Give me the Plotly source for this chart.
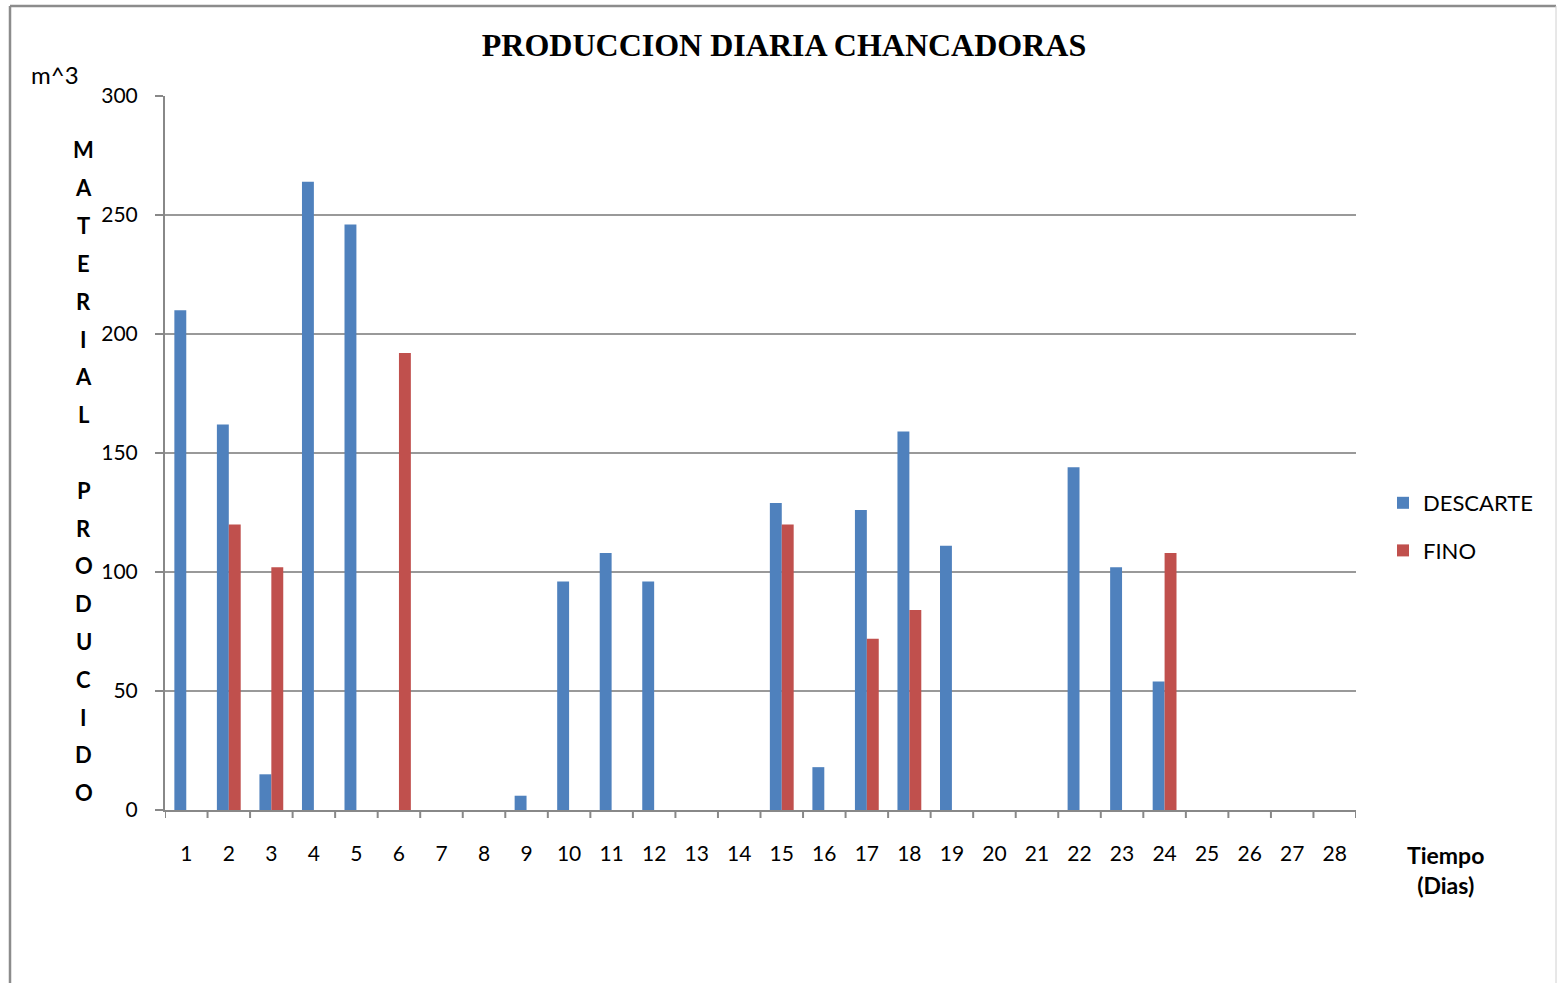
import plotly.graph_objects as go

# Daily crusher output (m^3) per day
dias = list(range(1, 29))
descarte = [210, 162, 15, 264, 246, None, None, None, 6, 96, 108, 96, None, None,
            129, 18, 126, 159, 111, None, None, 144, 102, 54, None, None, None, None]
fino = [None, 120, 102, None, None, 192, None, None, None, None, None, None, None, None,
        120, None, 72, 84, None, None, None, None, None, 108, None, None, None, None]
y_ticks = [0, 50, 100, 150, 200, 250, 300]

W, H = 1558, 983
L, R, T, B = 165, 1356, 96, 810  # plot area in pixels


def px(x):
    return (x - L) / (R - L)


def py(y):
    return (B - y) / (B - T)


FONT = "Lato"

fig = go.Figure()
fig.add_trace(go.Bar(x=dias, y=descarte, name="DESCARTE", marker_color="#4F81BD",
                     marker_line_width=0, legendgroup="d"))
fig.add_trace(go.Bar(x=dias, y=fino, name="FINO", marker_color="#C0504D",
                     marker_line_width=0, legendgroup="f"))

fig.update_layout(
    width=W, height=H,
    margin=dict(l=L, r=W - R, t=T, b=H - B, autoexpand=False),
    paper_bgcolor="white", plot_bgcolor="white",
    barmode="group", bargap=0.44, bargroupgap=0,
    font=dict(family=FONT, size=21, color="black"),
    title=dict(text="<b>PRODUCCION DIARIA CHANCADORAS</b>",
               font=dict(family="Liberation Serif", size=32, color="black"),
               x=(483 + 1085) / 2 / W, xanchor="center", y=1 - 45 / H, yanchor="middle"),
    legend=dict(x=px(1383), xanchor="left", y=py(482), yanchor="top",
                font=dict(family=FONT, size=22), tracegroupgap=16,
                itemwidth=30, bgcolor="rgba(0,0,0,0)"),
    showlegend=True,
)

fig.update_xaxes(
    type="linear", range=[0.5, 28.5], tickmode="array", tickvals=dias,
    ticktext=[str(d) for d in dias],
    showline=True, linecolor="#888888", linewidth=2,
    ticks="", showgrid=False, zeroline=False,
    ticklabelstandoff=24, tickfont=dict(family=FONT, size=21),
)
fig.update_yaxes(
    range=[0, 300], tickmode="array", tickvals=y_ticks,
    showline=True, linecolor="#888888", linewidth=2,
    ticks="outside", ticklen=8, tickcolor="#888888", tickwidth=2,
    showgrid=True, gridcolor="#999999", gridwidth=1.5, zeroline=False,
    ticklabelstandoff=13, tickfont=dict(family=FONT, size=21),
)

shapes = []
# tick marks on category boundaries
for k in range(29):
    xb = 0.5 + k
    shapes.append(dict(type="line", xref="x", yref="paper", x0=xb, x1=xb,
                       y0=0, y1=py(B + 8), line=dict(color="#888888", width=2)))
# outer frame
shapes.append(dict(type="line", xref="paper", yref="paper", x0=px(10), x1=px(10),
                   y0=py(6), y1=py(990), line=dict(color="#8c8c8c", width=2.5)))
shapes.append(dict(type="line", xref="paper", yref="paper", x0=px(10), x1=px(1556),
                   y0=py(6), y1=py(6), line=dict(color="#8c8c8c", width=2.5)))
shapes.append(dict(type="line", xref="paper", yref="paper", x0=px(1556), x1=px(1556),
                   y0=py(6), y1=py(990), line=dict(color="#d0d0d0", width=1)))
fig.update_layout(shapes=shapes)

annotations = []
# vertical stacked axis title
titulo_y = "MATERIAL PRODUCIDO"
for i, ch in enumerate(titulo_y):
    if ch == " ":
        continue
    annotations.append(dict(text=f"<b>{ch}</b>", xref="paper", yref="paper",
                            x=px(84), y=py(150 + i * 37.8), xanchor="center",
                            yanchor="middle", showarrow=False,
                            font=dict(family=FONT, size=22, color="black")))
annotations.append(dict(text="m^3", xref="paper", yref="paper", x=px(55), y=py(74),
                        xanchor="center", yanchor="middle", showarrow=False,
                        font=dict(family=FONT, size=24, color="black")))
annotations.append(dict(text="<b>Tiempo</b><br><b>(Dias)</b>", xref="paper", yref="paper",
                        x=px(1445), y=py(870), xanchor="center", yanchor="middle",
                        showarrow=False, align="center",
                        font=dict(family=FONT, size=23, color="black")))
fig.update_layout(annotations=annotations)

fig.write_html("out.html")
